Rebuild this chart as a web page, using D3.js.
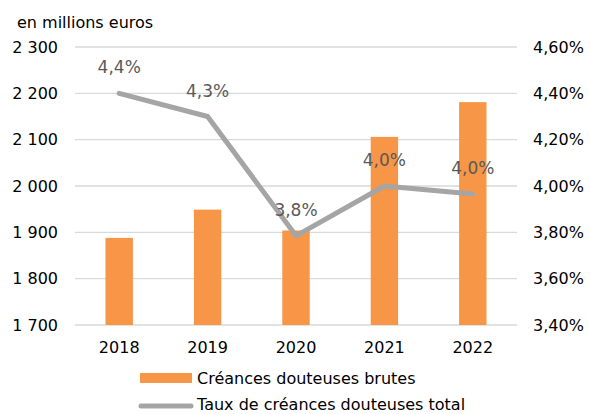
<!DOCTYPE html>
<html><head><meta charset="utf-8">
<script src="https://cdn.jsdelivr.net/npm/d3@7/dist/d3.min.js"></script>
<style>body{margin:0;background:#fff}svg{display:block;font-family:"DejaVu Sans",Verdana,sans-serif}</style>
</head><body><svg id="c" width="590" height="414"></svg>
<script>
const categories = ["2018","2019","2020","2021","2022"];
const creances = [1888, 1949, 1904, 2106, 2181];
const taux = [4.40, 4.30, 3.785, 4.00, 3.965];
const tauxLabels = ["4,4%","4,3%","3,8%","4,0%","4,0%"];
const leftTicks = [1700,1800,1900,2000,2100,2200,2300];
const rightTicks = [3.4,3.6,3.8,4.0,4.2,4.4,4.6];
const seriesNames = ["Créances douteuses brutes","Taux de créances douteuses total"];

const svg = d3.select("#c");
const L = 75, R = 517, T = 47, B = 325;
const x = d3.scaleBand().domain(categories).range([L,R]).paddingInner(0.69).paddingOuter(0.345);
const y = d3.scaleLinear().domain([1700,2300]).range([B,T]);
const y2 = d3.scaleLinear().domain([3.4,4.6]).range([B,T]);
const fmtL = d => d3.format(",")(d).replace(",", " ");
const fmtR = d => d.toFixed(2).replace(".", ",") + "%";

svg.append("g").selectAll("line").data(leftTicks).join("line")
  .attr("x1",L).attr("x2",R).attr("y1",d=>y(d)).attr("y2",d=>y(d))
  .attr("stroke","#d9d9d9").attr("stroke-width",1.3);

const gl = svg.append("g").attr("transform",`translate(${L-17},0)`)
  .call(d3.axisLeft(y).tickValues(leftTicks).tickFormat(fmtL).tickSize(0).tickPadding(0));
gl.select(".domain").remove();
gl.selectAll("text").attr("font-size",16).attr("fill","#000").attr("font-family","DejaVu Sans");

const gr = svg.append("g").attr("transform",`translate(${R+16},0)`)
  .call(d3.axisRight(y2).tickValues(rightTicks).tickFormat(fmtR).tickSize(0).tickPadding(0));
gr.select(".domain").remove();
gr.selectAll("text").attr("font-size",16).attr("fill","#000").attr("font-family","DejaVu Sans");

const gx = svg.append("g").attr("transform",`translate(0,${B+17})`)
  .call(d3.axisBottom(x).tickSize(0).tickPadding(0));
gx.select(".domain").remove();
gx.selectAll("text").attr("font-size",16).attr("fill","#000").attr("font-family","DejaVu Sans").attr("dy","0.7em");

svg.append("text").attr("x",17).attr("y",28).attr("font-size",16).text("en millions euros");

svg.append("g").selectAll("rect").data(creances).join("rect")
  .attr("x",(d,i)=>x(categories[i])).attr("width",x.bandwidth())
  .attr("y",d=>y(d)).attr("height",d=>B-y(d)).attr("fill","#f79646");

const cx = i => x(categories[i]) + x.bandwidth()/2;
const line = d3.line().x((d,i)=>cx(i)).y(d=>y2(d));
svg.append("path").datum(taux).attr("d",line).attr("fill","none")
  .attr("stroke","#a5a5a5").attr("stroke-width",5).attr("stroke-linejoin","round").attr("stroke-linecap","round");

svg.append("g").selectAll("text").data(tauxLabels).join("text")
  .attr("x",(d,i)=>cx(i)).attr("y",(d,i)=>y2(taux[i])-20)
  .attr("text-anchor","middle").attr("font-size",17).attr("fill","#595959").text(d=>d);

const lg = svg.append("g");
lg.append("rect").attr("x",140).attr("y",373).attr("width",52).attr("height",10).attr("fill","#f79646");
lg.append("text").attr("x",197).attr("y",384).attr("font-size",16).text(seriesNames[0]);
lg.append("line").attr("x1",141).attr("x2",191).attr("y1",406).attr("y2",406)
  .attr("stroke","#a5a5a5").attr("stroke-width",5).attr("stroke-linecap","round");
lg.append("text").attr("x",197).attr("y",410).attr("font-size",16).text(seriesNames[1]);
</script></body></html>
